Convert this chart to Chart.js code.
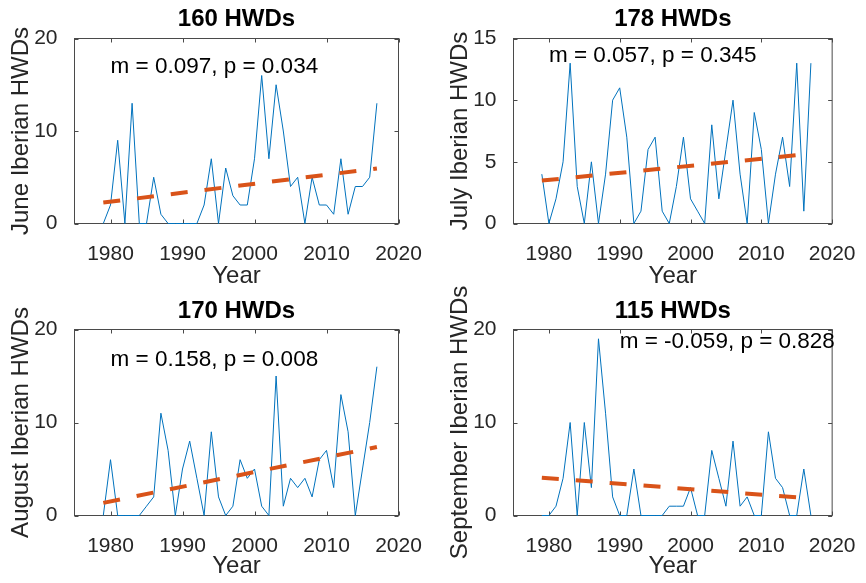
<!DOCTYPE html>
<html>
<head>
<meta charset="utf-8">
<script src="https://cdn.jsdelivr.net/npm/chart.js@4.4.0/dist/chart.umd.min.js"></script>
<style>
  html, body { margin: 0; padding: 0; background: #fff; }
  #wrap { position: relative; width: 866px; height: 583px; overflow: hidden; }
  #wrap canvas { position: absolute; }
</style>
</head>
<body>
<div id="wrap">
  <canvas id="june" width="433" height="291" style="left:0;top:0"></canvas>
  <canvas id="july" width="433" height="291" style="left:433px;top:0"></canvas>
  <!-- bottom canvases overlap the top row a bit so long y labels are not cut -->
  <canvas id="august" width="433" height="312" style="left:0;top:271px"></canvas>
  <canvas id="september" width="433" height="312" style="left:433px;top:271px"></canvas>
</div>
<script>
// years on the x axis
const years = [1979, 1980, 1981, 1982, 1983, 1984, 1985, 1986, 1987, 1988,
               1989, 1990, 1991, 1992, 1993, 1994, 1995, 1996, 1997, 1998,
               1999, 2000, 2001, 2002, 2003, 2004, 2005, 2006, 2007, 2008,
               2009, 2010, 2011, 2012, 2013, 2014, 2015, 2016, 2017];

// heat wave days per month
const juneHWDs      = [0, 2, 9, 0, 13, 0, 0, 5, 1, 0, 0, 0, 0, 0, 2, 7, 0, 6, 3, 2,
                       2, 7, 16, 7, 15, 10, 4, 5, 0, 5, 2, 2, 1, 7, 1, 4, 4, 5, 13];
const julyHWDs      = [4, 0, 2, 5, 13, 3, 0, 5, 0, 4, 10, 11, 7, 0, 1, 6, 7, 1, 0, 3,
                       7, 2, 1, 0, 8, 2, 6, 10, 4, 0, 9, 6, 0, 4, 7, 3, 13, 1, 13];
const augustHWDs    = [0, 6, 0, 0, 0, 0, 1, 2, 11, 7, 0, 5, 8, 4, 0, 9, 2, 0, 1, 6,
                       4, 5, 1, 0, 15, 1, 4, 3, 4, 2, 6, 7, 3, 13, 9, 0, 5, 10, 16];
const septemberHWDs = [0, 0, 1, 4, 10, 0, 10, 3, 19, 11, 2, 0, 0, 5, 0, 0, 0, 0, 1, 1,
                       1, 3, 0, 0, 7, 4, 1, 8, 1, 2, 0, 0, 9, 4, 3, 0, 0, 5, 0];

// trend line values at first and last year
const juneTrend      = [2.26, 5.95];
const julyTrend      = [3.48, 5.65];
const augustTrend    = [1.36, 7.36];
const septemberTrend = [4.07, 1.83];

// tick labels
const xTicks = [1980, 1990, 2000, 2010, 2020];
const yTicks20 = [0, 10, 20];
const yTicks15 = [0, 5, 10, 15];

const FONT = "'Liberation Sans', Arial, Helvetica, sans-serif";
const TEXT = '#262626';

// box around the axes with inward ticks on all four sides
const boxPlugin = {
    id: 'box',
    beforeDatasetsDraw(chart) {
        const {ctx, chartArea: a, scales: {x, y}} = chart;
        const len = 4;
        ctx.save();
        ctx.strokeStyle = '#4a4a4a';
        ctx.lineWidth = 1;
        ctx.strokeRect(a.left, a.top, a.right - a.left, a.bottom - a.top);
        ctx.beginPath();
        x.ticks.forEach(t => {
            const px = Math.round(x.getPixelForValue(t.value)) + 0.5;
            ctx.moveTo(px, a.bottom); ctx.lineTo(px, a.bottom - len);
            ctx.moveTo(px, a.top); ctx.lineTo(px, a.top + len);
        });
        y.ticks.forEach(t => {
            const py = Math.round(y.getPixelForValue(t.value)) + 0.5;
            ctx.moveTo(a.left, py); ctx.lineTo(a.left + len, py);
            ctx.moveTo(a.right, py); ctx.lineTo(a.right - len, py);
        });
        ctx.stroke();
        ctx.restore();
    }
};

// "m = ..., p = ..." text placed in data coordinates
const notePlugin = {
    id: 'note',
    afterDatasetsDraw(chart, args, opts) {
        const {ctx, scales: {x, y}} = chart;
        ctx.save();
        ctx.font = `${opts.size}px ${FONT}`;
        ctx.fillStyle = '#000';
        ctx.textAlign = 'left';
        ctx.textBaseline = 'middle';
        ctx.fillText(opts.text, x.getPixelForValue(opts.x), y.getPixelForValue(opts.y));
        ctx.restore();
    }
};

const makePanel = (id, p) => {
    const canvas = document.getElementById(id);
    const W = canvas.width, H = canvas.height;

    return new Chart(canvas, {
        type: 'line',
        data: {
            datasets: [{
                data: years.map((yr, i) => ({x: yr, y: p.values[i]})),
                borderColor: '#0072BD',
                borderWidth: 1,
                pointRadius: 0,
                tension: 0,
                clip: false,
                order: 1
            }, {
                data: [{x: years[0], y: p.trend[0]}, {x: years[years.length - 1], y: p.trend[1]}],
                borderColor: '#D95319',
                borderWidth: 4,
                borderDash: [17, 17],
                borderCapStyle: 'butt',
                pointRadius: 0,
                clip: false,
                order: 0
            }]
        },
        options: {
            responsive: false,
            animation: false,
            events: [],
            layout: {padding: {left: 0, top: 0, right: W - p.area.right, bottom: 0}},
            scales: {
                x: {
                    type: 'linear',
                    min: 1975,
                    max: 2020,
                    afterBuildTicks: s => { s.ticks = xTicks.map(v => ({value: v})); },
                    afterFit: s => { s.height = H - p.area.bottom; },
                    grid: {display: false},
                    border: {display: false},
                    ticks: {
                        callback: v => String(v),
                        font: {family: FONT, size: 21},
                        color: TEXT,
                        padding: 10.5,
                        maxRotation: 0,
                        autoSkip: false
                    },
                    title: {
                        display: true,
                        text: 'Year',
                        font: {family: FONT, size: 24},
                        color: TEXT,
                        padding: {top: 0, bottom: p.xTitlePad}
                    }
                },
                y: {
                    type: 'linear',
                    min: 0,
                    max: p.yMax,
                    afterBuildTicks: s => { s.ticks = p.yTicks.map(v => ({value: v})); },
                    afterFit: s => { s.width = p.area.left; },
                    grid: {display: false},
                    border: {display: false},
                    ticks: {
                        callback: v => String(v),
                        font: {family: FONT, size: 21},
                        color: TEXT,
                        padding: 9
                    },
                    title: {
                        display: true,
                        text: p.ylabel,
                        font: {family: FONT, size: 24},
                        color: TEXT,
                        padding: {top: p.yTitlePad, bottom: 0}
                    }
                }
            },
            plugins: {
                legend: {display: false},
                tooltip: {enabled: false},
                title: {
                    display: true,
                    fullSize: false,
                    text: p.title,
                    color: '#000',
                    font: {family: FONT, size: 24, weight: 'bold'},
                    padding: {top: p.titlePad, bottom: p.area.top - 28.8 - p.titlePad}
                },
                note: p.note
            }
        },
        plugins: [boxPlugin, notePlugin]
    });
};

makePanel('june', {
    values: juneHWDs, trend: juneTrend,
    title: '160 HWDs', ylabel: 'June Iberian HWDs',
    yMax: 20, yTicks: yTicks20,
    area: {left: 74.5, right: 398.5, top: 38.5, bottom: 223.5},
    titlePad: 5.1, xTitlePad: 0, yTitlePad: 7,
    note: {text: 'm = 0.097, p = 0.034', x: 1980, y: 16.9, size: 22.5}
});

makePanel('july', {
    values: julyHWDs, trend: julyTrend,
    title: '178 HWDs', ylabel: 'July Iberian HWDs',
    yMax: 15, yTicks: yTicks15,
    area: {left: 80.5, right: 405.5, top: 38.5, bottom: 223.5},
    titlePad: 5.1, xTitlePad: 0, yTitlePad: 12.6,
    note: {text: 'm = 0.057, p = 0.345', x: 1980, y: 13.6, size: 22.5}
});

makePanel('august', {
    values: augustHWDs, trend: augustTrend,
    title: '170 HWDs', ylabel: 'August Iberian HWDs',
    yMax: 20, yTicks: yTicks20,
    area: {left: 74.5, right: 398.5, top: 58.5, bottom: 244.5},
    titlePad: 25.6, xTitlePad: 2, yTitlePad: 7,
    note: {text: 'm = 0.158, p = 0.008', x: 1980, y: 16.7, size: 22.5}
});

makePanel('september', {
    values: septemberHWDs, trend: septemberTrend,
    title: '115 HWDs', ylabel: 'September Iberian HWDs',
    yMax: 20, yTicks: yTicks20,
    area: {left: 80.5, right: 405.5, top: 58.5, bottom: 244.5},
    titlePad: 25.6, xTitlePad: 2, yTitlePad: 12.6,
    note: {text: 'm = -0.059, p = 0.828', x: 1990, y: 18.7, size: 22.5}
});
</script>
</body>
</html>
